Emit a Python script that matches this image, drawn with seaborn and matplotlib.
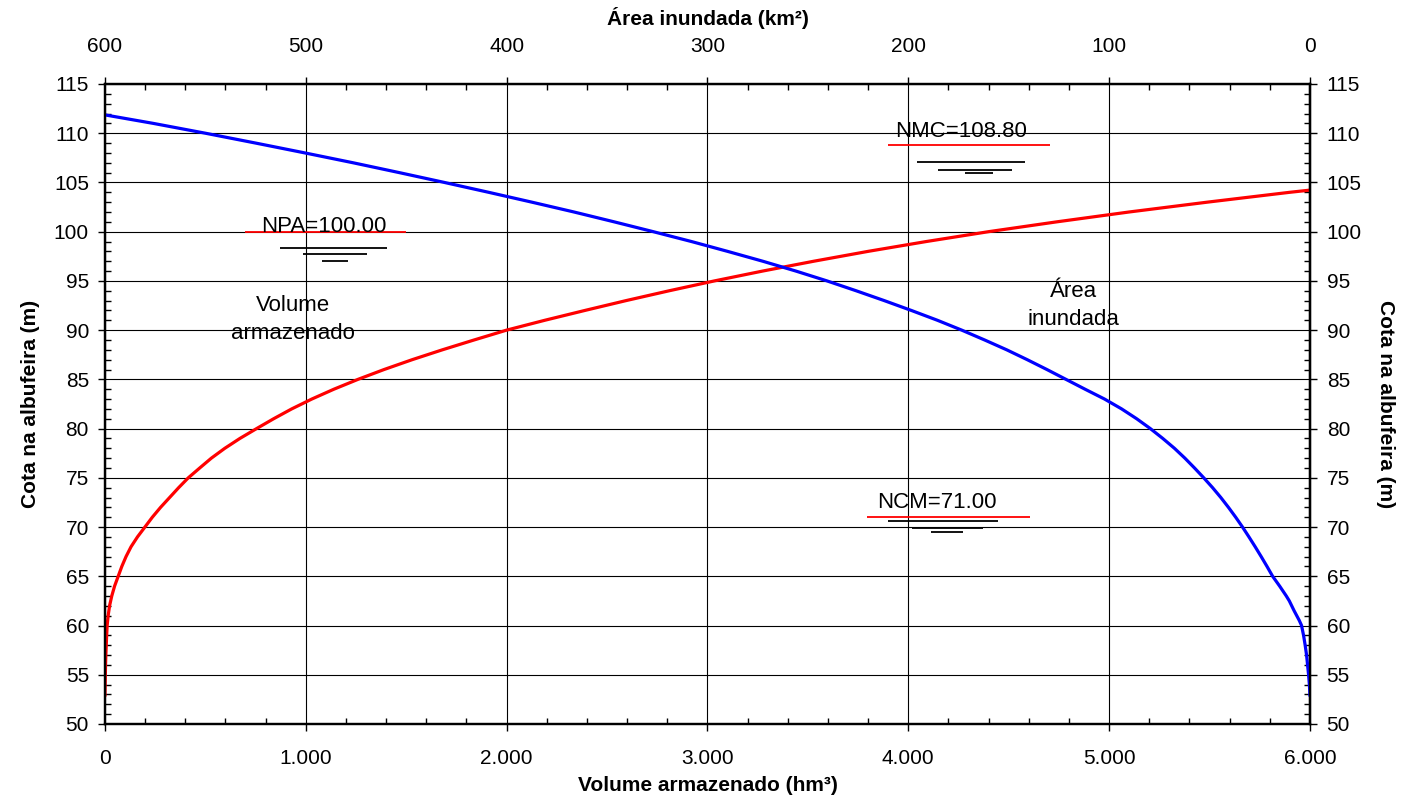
import matplotlib
matplotlib.use("Agg")
import matplotlib.pyplot as plt
from matplotlib.ticker import MultipleLocator, FuncFormatter
import seaborn as sns
import pandas as pd

# ---- data ----
vol_elev = [52.85, 53.5, 54, 55, 56, 57, 58, 59, 60, 61, 62, 63, 64, 65, 66, 67, 68, 69, 70,
            71, 72, 73, 74, 75, 76, 77, 78, 79, 80, 81, 82, 83, 84, 85, 86, 87, 88, 89, 90,
            91, 92, 93, 94, 95, 96, 97, 98, 99, 100, 101, 102, 103, 104, 104.22]
volume = [0, 0.5, 1, 2, 3, 4.5, 6.5, 8.5, 11, 16, 23, 34, 48, 66, 84, 105, 130, 162, 199,
          236, 277, 322, 367, 415, 472, 530, 597, 672, 755, 840, 930, 1030, 1140, 1260, 1390,
          1530, 1680, 1838, 2000, 2190, 2390, 2595, 2810, 3035, 3275, 3530, 3800, 4090, 4400,
          4740, 5100, 5490, 5900, 6000]

area_elev = [52.85, 54, 55, 56, 57, 58, 59, 60, 60.5, 61, 61.5, 62, 62.5, 63, 64, 65, 66, 67,
             68, 69, 70, 71, 72, 73, 74, 75, 76, 77, 78, 79, 80, 81, 82, 83, 84, 85, 86, 87,
             88, 89, 90, 91, 92, 93, 94, 95, 96, 97, 98, 99, 100, 101, 102, 103, 104, 105, 106,
             107, 108, 109, 110, 111, 111.86]
area = [0, 0.3, 0.7, 1.2, 1.7, 2.4, 3.2, 4.2, 5.3, 6.6, 7.9, 9.1, 10.3, 11.8, 15.1, 18.6, 21.4,
        24.3, 27.3, 30.4, 33.6, 37.0, 40.6, 44.4, 48.5, 52.9, 57.5, 62.3, 67.5, 73.3, 79.5,
        86.3, 93.8, 102.3, 112, 121.5, 131, 140.8, 151, 162, 173.4, 185.5, 198.5, 212, 226,
        240.5, 256, 272.5, 290, 308, 327, 346.5, 366.5, 387.5, 409, 431, 453.5, 476.5, 500.5,
        525, 550, 576, 600]

# water level markers
level_names = ["NPA=100.00", "NMC=108.80", "NCM=71.00"]
level_values = [100.0, 108.8, 71.0]
level_x0 = [697, 3901, 3796]
level_x1 = [1499, 4706, 4607]
level_text_x = [1088, 4264, 4142]
level_text_y = [100.5, 110.15, 72.45]
sym_y = [[98.32, 97.77, 97.0], [107.05, 106.27, 105.93], [70.62, 69.94, 69.53]]
sym_x0 = [[871, 985, 1082], [4042, 4150, 4283], [3901, 4017, 4112]]
sym_x1 = [[1404, 1307, 1208], [4582, 4515, 4421], [4449, 4374, 4274]]

label_texts = ["Volume\narmazenado", "Área\ninundada"]
label_x = [936, 4821]
label_y = [91.1, 92.5]

xlabel_bottom = "Volume armazenado (hm³)"
xlabel_top = "Área inundada (km²)"
ylabel = "Cota na albufeira (m)"

# ---- style ----
sns.set_style("white")
plt.rcParams['font.family'] = ['Liberation Sans', 'DejaVu Sans']
plt.rcParams['text.color'] = 'black'
plt.rcParams['axes.labelcolor'] = 'black'
plt.rcParams['xtick.color'] = 'black'
plt.rcParams['ytick.color'] = 'black'
FS = 15

fig = plt.figure(figsize=(14.03, 7.96), dpi=100)
ax = fig.add_axes([0.0748, 0.0905, 0.9337 - 0.0748, 0.8945 - 0.0905])

df_v = pd.DataFrame({"vol": volume, "elev": vol_elev})
df_a = pd.DataFrame({"area": area, "elev": area_elev})

sns.lineplot(data=df_v, x="vol", y="elev", sort=False, color='#ff0000', linewidth=2.3,
             ax=ax, estimator=None)
ax.set_xlim(0, 6000)
ax.set_ylim(50, 115)
ax.xaxis.set_major_locator(MultipleLocator(1000))
ax.xaxis.set_minor_locator(MultipleLocator(200))
ax.yaxis.set_major_locator(MultipleLocator(5))
ax.yaxis.set_minor_locator(MultipleLocator(1))
ax.xaxis.set_major_formatter(FuncFormatter(lambda v, p: f"{v:,.0f}".replace(",", ".")))
ax.grid(True, which='major', color='black', linewidth=0.8)
ax.set_axisbelow(True)
ax.set_xlabel(xlabel_bottom, fontsize=FS, fontweight='bold', labelpad=6)
ax.set_ylabel(ylabel, fontsize=FS, fontweight='bold', labelpad=10)

ax_top = ax.twiny()
sns.lineplot(data=df_a, x="area", y="elev", sort=False, color='#0000ff', linewidth=2.3,
             ax=ax_top, estimator=None)
ax_top.set_xlim(600, 0)
ax_top.set_ylim(50, 115)
ax_top.xaxis.set_major_locator(MultipleLocator(100))
ax_top.xaxis.set_minor_locator(MultipleLocator(20))
ax_top.set_xlabel(xlabel_top, fontsize=FS, fontweight='bold', labelpad=9)
ax_top.grid(False)

ax_r = ax.secondary_yaxis('right')
ax_r.yaxis.set_major_locator(MultipleLocator(5))
ax_r.yaxis.set_minor_locator(MultipleLocator(1))
ax_r.set_ylabel(ylabel, fontsize=FS, fontweight='bold', rotation=270, labelpad=24)

for a in (ax, ax_top):
    for s in a.spines.values():
        s.set_linewidth(1.6)
        s.set_color('black')
for s in ax_r.spines.values():
    s.set_linewidth(1.6)

ax.tick_params(which='major', direction='out', length=5, width=1, labelsize=FS,
               bottom=True, left=True, top=False, right=False)
ax.tick_params(which='minor', direction='in', length=4.5, width=1,
               bottom=True, left=True, top=False, right=False)
ax.tick_params(axis='x', which='major', pad=13)
ax.tick_params(axis='y', which='major', pad=6.5)
ax_top.tick_params(which='major', direction='out', length=5, width=1, labelsize=FS, pad=15)
ax_top.tick_params(which='minor', direction='in', length=4.5, width=1)
ax_r.tick_params(which='major', direction='out', length=5, width=1, labelsize=FS, pad=7)
ax_r.tick_params(which='minor', direction='in', length=4.5, width=1)

# level markers
for i in range(len(level_names)):
    ax.hlines(level_values[i], level_x0[i], level_x1[i], color='#ff0000', linewidth=1.3, zorder=4)
    ax.text(level_text_x[i], level_text_y[i], level_names[i], ha='center', va='center',
            fontsize=16, zorder=5)
    for j in range(3):
        ax.hlines(sym_y[i][j], sym_x0[i][j], sym_x1[i][j], color='black', linewidth=1.3, zorder=4)

for t, x, y in zip(label_texts, label_x, label_y):
    ax.text(x, y, t, ha='center', va='center', fontsize=16, linespacing=1.45)

if ax.get_legend():
    ax.get_legend().remove()

fig.savefig("out.png", dpi=100)
